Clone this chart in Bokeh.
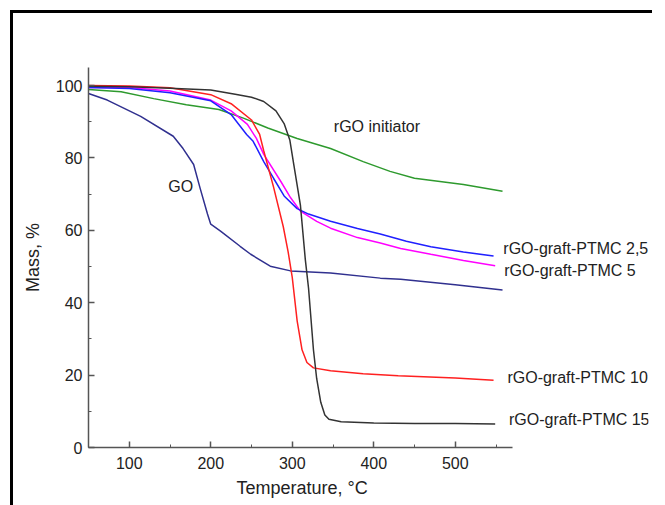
from bokeh.plotting import figure
from bokeh.models import Range1d, FixedTicker, Label, Title
from bokeh.embed import file_html
from bokeh.resources import INLINE

FONT = "Liberation Sans"

# rGO-graft-PTMC 15 (black)
t_p15 = [50, 100, 150, 200, 230, 250, 265, 280, 290, 297, 302, 310, 316, 320, 326, 330, 335, 340, 345, 360, 400, 450, 500, 549]
m_p15 = [99.8, 99.7, 99.3, 98.8, 97.6, 96.8, 95.6, 93, 89.5, 85, 78, 67, 52, 44, 27, 19, 12.5, 9, 7.8, 7.1, 6.8, 6.6, 6.6, 6.5]

# rGO-graft-PTMC 10 (red)
t_p10 = [50, 100, 150, 200, 225, 250, 260, 265, 277, 289, 295, 300, 306, 312, 318, 326, 347, 387, 430, 500, 547]
m_p10 = [100, 99.9, 99.4, 97.5, 95, 90.5, 86.5, 82, 72, 61, 54, 47, 35, 27, 23.5, 22, 21.2, 20.4, 19.8, 19.2, 18.6]

# rGO-graft-PTMC 5 (magenta)
t_p5 = [50, 100, 150, 200, 225, 245, 256, 265, 286, 298, 310, 330, 347, 380, 408, 433, 470, 510, 549]
m_p5 = [99.5, 99.5, 98.5, 96, 93, 89.3, 85.4, 81, 73.5, 69, 65.3, 62.5, 60.6, 58, 56.5, 55, 53.4, 51.7, 50.2]

# rGO-graft-PTMC 2,5 (blue)
t_p25 = [50, 100, 150, 200, 225, 244, 252, 265, 277, 290, 306, 320, 347, 380, 408, 440, 470, 510, 547]
m_p25 = [99.5, 99.2, 98, 95.8, 92, 86.5, 84.6, 79, 74.4, 69.5, 66, 64.5, 62.5, 60.5, 59, 57, 55.5, 54, 52.9]

# rGO initiator (green)
t_ini = [50, 90, 130, 170, 210, 240, 270, 306, 347, 387, 420, 450, 510, 558]
m_ini = [98.9, 98.3, 96.4, 94.7, 93.4, 91, 88.3, 85.4, 82.6, 79, 76.3, 74.4, 72.7, 70.8]

# GO (navy)
t_go = [50, 73, 114, 154, 166, 179, 187, 196, 200, 212, 236, 249, 273, 298, 347, 408, 433, 500, 558]
m_go = [97.8, 96, 91.5, 86, 82.6, 78.2, 71.6, 64.5, 61.7, 59.8, 55.6, 53.4, 50.1, 48.8, 48.2, 46.8, 46.5, 45, 43.5]

x_ticks = [100, 200, 300, 400, 500]
x_minor = [50, 150, 250, 350, 450, 550]
y_ticks = [0, 20, 40, 60, 80, 100]
y_minor = [10, 30, 50, 70, 90]
x_axis_bounds = (50, 570)

x_label = "Temperature, °C"
y_label = "Mass, %"

labels = ["rGO initiator", "GO", "rGO-graft-PTMC 2,5", "rGO-graft-PTMC 5",
          "rGO-graft-PTMC 10", "rGO-graft-PTMC 15"]
label_x = [351, 148, 559, 560, 564, 566]
label_y = [88.7, 72.2, 55.1, 49.0, 19.3, 7.7]

FRAME_W = 560
FRAME_H = 380
PX_PER_DEG = 0.815

p = figure(frame_width=FRAME_W, frame_height=FRAME_H, output_backend="svg", toolbar_location=None,
           x_range=Range1d(50, 50 + FRAME_W / PX_PER_DEG), y_range=Range1d(0, 105),
           min_border_left=75, min_border_top=54, min_border_right=4, min_border_bottom=58,
           styles={"border-top": "3px solid black", "border-left": "3px solid black",
                   "margin-left": "10px", "margin-top": "10px"})
p.outline_line_color = None
p.grid.visible = False
p.background_fill_color = "white"

series = [
    (t_ini, m_ini, "#2e9a2e"),
    (t_go, m_go, "#30308f"),
    (t_p5, m_p5, "#ff00ff"),
    (t_p25, m_p25, "#2020ff"),
    (t_p10, m_p10, "#ff2020"),
    (t_p15, m_p15, "#333333"),
]
for tx, my, c in series:
    p.line(tx, my, line_color=c, line_width=1.5)

for ax in (p.xaxis[0], p.yaxis[0]):
    ax.axis_line_color = "#555555"
    ax.axis_line_width = 1.5
    ax.major_tick_line_color = "#555555"
    ax.minor_tick_line_color = "#555555"
    ax.major_tick_line_width = 1.5
    ax.major_tick_in = 6
    ax.major_tick_out = 0
    ax.minor_tick_in = 3
    ax.minor_tick_out = 0
    ax.major_label_text_font = FONT
    ax.major_label_text_font_size = "16px"
    ax.major_label_text_color = "#222222"
    ax.axis_label_text_font = FONT
    ax.axis_label_text_font_size = "18px"
    ax.axis_label_text_font_style = "normal"
    ax.axis_label_text_color = "#222222"

p.xaxis.bounds = x_axis_bounds
p.xaxis.ticker = FixedTicker(ticks=x_ticks, minor_ticks=x_minor)
p.yaxis.ticker = FixedTicker(ticks=y_ticks, minor_ticks=y_minor)
p.yaxis.axis_label = y_label
p.xaxis.major_label_standoff = 9
p.yaxis.major_label_standoff = 6
p.yaxis.axis_label_standoff = 10

# x-axis label centred under the axis line (not under the wider frame)
p.add_layout(Title(text=x_label, align="left", offset=148, standoff=9,
                   text_font=FONT, text_font_size="18px", text_font_style="normal",
                   text_color="#222222"), "below")

for txt, lx, ly in zip(labels, label_x, label_y):
    p.add_layout(Label(x=lx, y=ly, text=txt, text_font=FONT, text_font_size="16px",
                       text_color="#222222", text_baseline="middle", text_align="left"))

open("out.html", "w").write(file_html(p, INLINE))
